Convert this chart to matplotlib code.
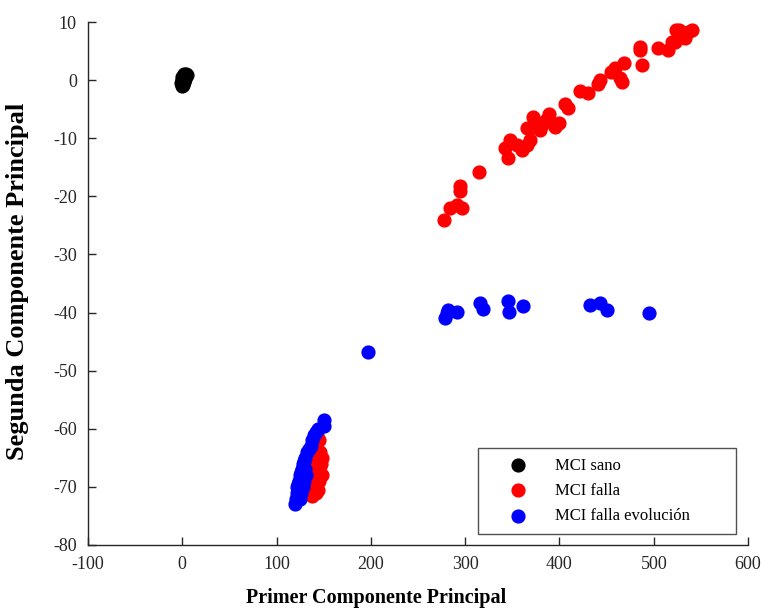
import matplotlib.pyplot as plt

plt.rcParams['font.family'] = ['Liberation Serif', 'DejaVu Serif']
plt.rcParams['axes.unicode_minus'] = False

# componentes principales por grupo
sano_x = [0, 1, 2, 3, 4, -1, 0, 1, 0.5, 2, 3, -0.5, 4.5, 1.5, 2.5]
sano_y = [0, 0.5, 1, 0.8, 1, -0.5, -1, -0.8, 0.3, 0, 0.2, 0.5, 0.9, -0.3, 0.6]

falla_x = [278, 284, 291, 297, 294, 295, 315, 342, 345, 348, 355, 360, 366, 369,
           366, 372, 373, 379, 382, 389, 386, 395, 400, 406, 409, 422, 430, 443,
           441, 455, 459, 464, 468, 466, 485, 485, 488, 504, 515, 519, 524, 522,
           527, 533, 536, 541,
           143, 145, 142, 146, 140, 144, 147, 139, 142, 146, 137, 141, 145, 136,
           140, 144, 134, 138, 142, 148, 148]
falla_y = [-24, -22, -21.5, -22, -19, -18.2, -15.8, -11.7, -13.4, -10.3, -11.2,
           -12, -11.2, -10.3, -8.3, -6.4, -8.1, -8.6, -7.7, -5.9, -6.9, -8.1,
           -7.4, -4.1, -4.8, -1.9, -2.2, 0, -0.7, 1.4, 2.1, 0.3, 2.9, -0.3, 5.2,
           5.7, 2.6, 5.5, 5.2, 6.5, 8.6, 6.5, 8.6, 7.2, 8.3, 8.6,
           -61, -62, -63, -64, -64.5, -65, -66, -66, -67, -67.5, -68, -68.5, -69,
           -69.5, -70, -70.5, -71, -71.5, -71, -65, -68]

evol_x = [197, 279, 281, 282, 291, 316, 319, 345, 346, 361, 432, 443, 450, 495,
          120, 121, 122, 122, 123, 124, 125, 126, 127, 128, 129, 130, 131, 128,
          126, 132, 134, 136, 138, 140, 142, 144, 150, 150, 125, 130, 129]
evol_y = [-46.8, -41, -40.1, -39.6, -39.9, -38.4, -39.4, -38.0, -39.9, -38.9,
          -38.7, -38.4, -39.6, -40,
          -73, -72, -71, -70, -69.5, -69, -68, -67.5, -67, -66, -65.5, -65, -68,
          -70, -71, -64, -63.5, -63, -62, -61, -60.5, -60, -58.5, -59.5, -72,
          -67, -69]

fig = plt.figure(figsize=(7.61, 6.12), dpi=100)
ax = fig.add_axes([0.1156, 0.1095, 0.8674, 0.8545])

ax.scatter(sano_x, sano_y, s=85, c='black', label='MCI sano')
ax.scatter(falla_x, falla_y, s=85, c='red', label='MCI falla')
ax.scatter(evol_x, evol_y, s=85, c='blue', label='MCI falla evolución')

ax.set_xlim(-100, 600)
ax.set_ylim(-80, 10)
ax.set_xticks(range(-100, 601, 100))
ax.set_yticks(range(-80, 11, 10))

for s in ['top', 'right']:
    ax.spines[s].set_visible(False)
for s in ['left', 'bottom']:
    ax.spines[s].set_color('#262626')
    ax.spines[s].set_linewidth(1.0)
ax.tick_params(direction='in', length=6, width=1, colors='#262626',
               labelsize=13, labelcolor='#262626', pad=8)

ax.set_xlabel('Primer Componente Principal', fontsize=14.5, fontweight='bold')
ax.xaxis.set_label_coords(0.436, -0.083)
ax.set_ylabel('Segunda Componente Principal', fontsize=19, fontweight='bold')
ax.yaxis.set_label_coords(-0.089, 0.505)

leg = ax.legend(loc='lower left', bbox_to_anchor=(0.591, 0.021, 0.391, 0.2),
                mode='expand', borderaxespad=0, fontsize=12, frameon=True,
                fancybox=False, edgecolor='#262626', handletextpad=0.4,
                borderpad=0.6, labelspacing=0.55, handlelength=3.6,
                scatterpoints=1)
leg.get_frame().set_linewidth(1.0)

fig.savefig('out.png', dpi=100)
